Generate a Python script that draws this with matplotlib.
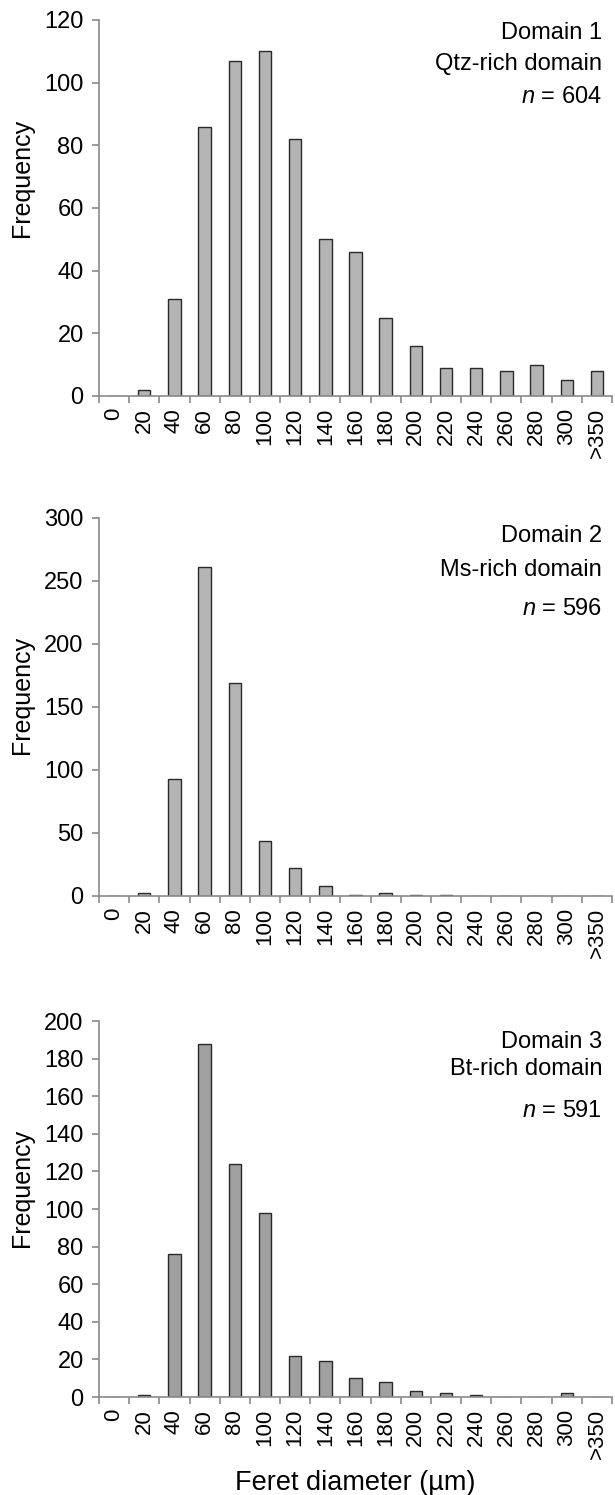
import numpy as np
import matplotlib
matplotlib.use("Agg")
import matplotlib.pyplot as plt

plt.rcParams['font.family'] = ['Liberation Sans', 'DejaVu Sans']
plt.rcParams['mathtext.fontset'] = 'custom'
plt.rcParams['mathtext.it'] = 'Liberation Sans:italic'
plt.rcParams['mathtext.rm'] = 'Liberation Sans'

# bin labels (Feret diameter, µm)
bins = ["0", "20", "40", "60", "80", "100", "120", "140", "160", "180",
        "200", "220", "240", "260", "280", "300", ">350"]

# frequencies per domain
domain1 = [0, 2, 31, 86, 107, 110, 82, 50, 46, 25, 16, 9, 9, 8, 10, 5, 8]
domain2 = [0, 2, 93, 261, 169, 44, 22, 8, 1, 2, 1, 1, 0, 0, 0, 0, 0]
domain3 = [0, 1, 76, 188, 124, 98, 22, 19, 10, 8, 3, 2, 1, 0, 0, 2, 0]

titles = [("Domain 1", "Qtz-rich domain", 604),
          ("Domain 2", "Ms-rich domain", 596),
          ("Domain 3", "Bt-rich domain", 591)]
ymax = [120, 300, 200]
ystep = [20, 50, 20]
bar_colors = ["#b4b4b4", "#b4b4b4", "#a0a0a0"]

W, H = 615, 1495
fig = plt.figure(figsize=(W / 100, H / 100), dpi=100)

# axes boxes in pixels: (top, bottom)
boxes = [(20, 396), (518, 896), (1021, 1397)]
left_px, right_px = 99, 612
# baselines of the three annotation lines, and centre of the y label (pixels)
text_y = [(39, 70, 103), (542, 576, 615), (1048, 1075, 1117)]
ylab_y = [178, 695, 1188]

spine_col = "#8a8a8a"
x = np.arange(len(bins))

for i, data in enumerate([domain1, domain2, domain3]):
    top, bot = boxes[i]
    ax = fig.add_axes([left_px / W, 1 - bot / H, (right_px - left_px) / W, (bot - top) / H])
    ax.bar(x, data, width=0.41, color=bar_colors[i], edgecolor="#2a2a2a", linewidth=1.0, zorder=3)
    ax.set_xlim(-0.5, len(bins) - 0.5)
    ax.set_ylim(0, ymax[i])
    ax.set_yticks(np.arange(0, ymax[i] + 1, ystep[i]))
    ax.tick_params(axis='y', labelsize=17, direction='out', length=5, width=1.2, color=spine_col, pad=6)

    # boundary ticks without labels, labels at bin centres
    ax.set_xticks(np.arange(-0.5, len(bins), 1.0))
    ax.set_xticklabels([])
    ax.set_xticks(x, minor=True)
    ax.set_xticklabels(bins, minor=True, rotation=90, fontsize=16)
    ax.tick_params(axis='x', which='major', direction='out', length=5, width=1.2, color=spine_col)
    ax.tick_params(axis='x', which='minor', length=0, pad=8.5)

    for s in ["top", "right"]:
        ax.spines[s].set_visible(False)
    for s in ["left", "bottom"]:
        ax.spines[s].set_color(spine_col)
        ax.spines[s].set_linewidth(1.2)
        ax.spines[s].set_zorder(4)

    fig.text(22 / W, 1 - ylab_y[i] / H, "Frequency", rotation=90,
             ha='center', va='center', fontsize=18)

    l1, l2, n = titles[i]
    ty = text_y[i]
    fig.text(602 / W, 1 - ty[0] / H, l1, ha='right', va='baseline', fontsize=17)
    fig.text(602 / W, 1 - ty[1] / H, l2, ha='right', va='baseline', fontsize=17)
    fig.text(602 / W, 1 - ty[2] / H, f"$n$ = {n}", ha='right', va='baseline', fontsize=17)

fig.text(355 / W, 1 - 1490 / H, "Feret diameter (µm)", ha='center', va='baseline', fontsize=19.5)

fig.savefig("out.png", dpi=100)
